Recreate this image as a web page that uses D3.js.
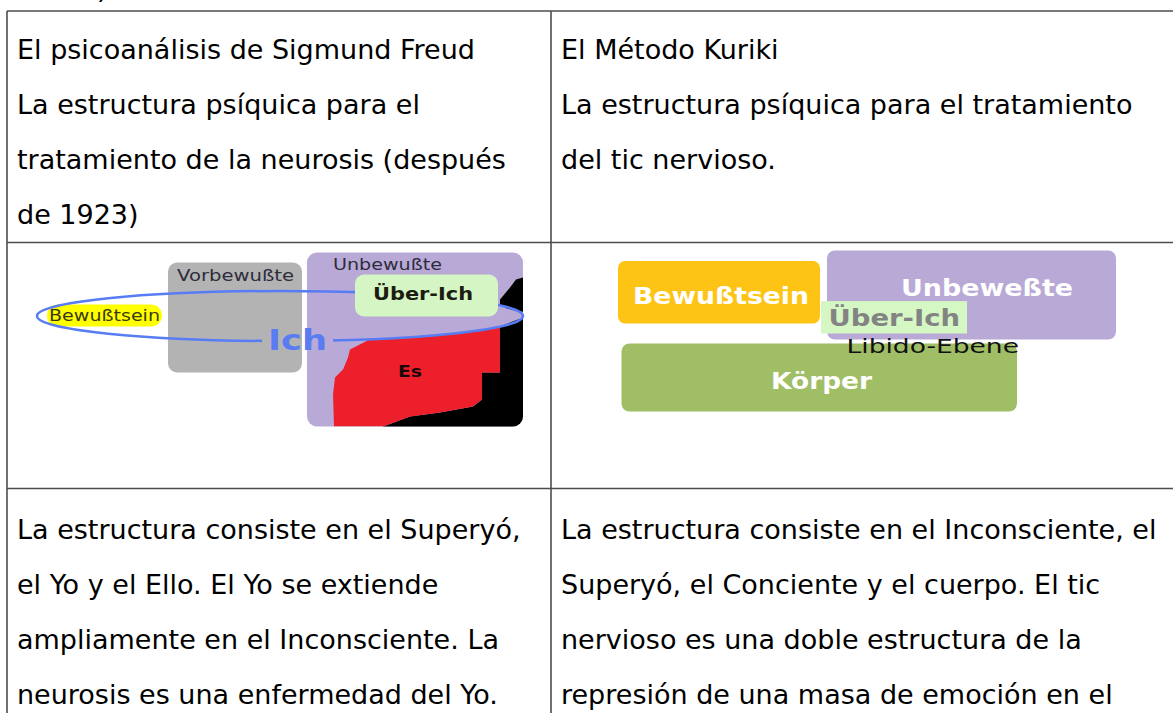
<!DOCTYPE html>
<html>
<head>
<meta charset="utf-8">
<script src="https://cdn.jsdelivr.net/npm/d3@7"></script>
<style>
  html, body { margin: 0; padding: 0; background: #fff; }
  svg { display: block; }
</style>
</head>
<body>
<script>
// ---------- DATA ----------
const headerLeft = ["El psicoanálisis de Sigmund Freud", "La estructura psíquica para el", "tratamiento de la neurosis (después", "de 1923)"];
const headerRight = ["El Método Kuriki", "La estructura psíquica para el tratamiento", "del tic nervioso."];
const bodyLeft = ["La estructura consiste en el Superyó,", "el Yo y el Ello. El Yo se extiende", "ampliamente en el Inconsciente. La", "neurosis es una enfermedad del Yo."];
const bodyRight = ["La estructura consiste en el Inconsciente, el", "Superyó, el Conciente y el cuerpo. El tic", "nervioso es una doble estructura de la", "represión de una masa de emoción en el"];

// Freud diagram (cell-local units)
const freudBoxes = [
  { id: "vor", x0: 161, x1: 295, y0: 20, y1: 130, fill: "#b3b3b3", r: 9 },
  { id: "unb", x0: 300, x1: 516, y0: 10, y1: 184, fill: "#b9a9d6", r: 10 }
];
const freudUeber = { x0: 348, x1: 491, y0: 32, y1: 74, fill: "#d5f6c4", r: 9 };
const freudBew = { x0: 40, x1: 155, y0: 62, y1: 84, fill: "#ffff00" };
const freudIch = { cx: 273, cy: 73.5, rx: 243, ry: 25 };
const freudRed = [[336,127],[341,115],[343,107],[363,96.7],[393,95.2],[423,93.2],[453,90.3],[473,87.7],[493,84],[493,130],[475,130],[475,157],[466,164],[433,170],[403,174],[376,184],[327,184],[326,152],[328,135]];
const freudBlackTop = [[509,37],[520,34],[520,70],[508,68],[500,66],[493,63],[493,57],[498,51],[503,45]];
const freudBlackBottom = [[493,84],[503,80],[511,77],[520,75],[520,190],[376,190],[376,184],[403,174],[433,170],[466,164],[475,157],[475,130],[493,130]];
const freudLabels = [
  { t: "Vorbewußte", x0: 170, x1: 287, y: 38, size: 16, weight: "normal", fill: "#2d2d3c" },
  { t: "Unbewußte", x0: 326, x1: 435, y: 27, size: 16, weight: "normal", fill: "#2d2d3c" },
  { t: "Bewußtsein", x0: 42, x1: 153, y: 78, size: 15, weight: "normal", fill: "#3a3a10" },
  { t: "Über-Ich", x0: 366, x1: 466, y: 57, size: 17, weight: "bold", fill: "#1c1c10" },
  { t: "Es", x0: 391, x1: 415, y: 134, size: 15, weight: "bold", fill: "#1a0808" },
  { t: "Ich", x0: 261, x1: 320, y: 107, size: 28, weight: "bold", fill: "#5a7cf2" }
];

// Kuriki diagram (cell-local units)
const kurikiBoxes = [
  { id: "bew", x0: 67, x1: 269, y0: 18.5, y1: 81, fill: "#fec415", r: 7 },
  { id: "unb", x0: 276, x1: 565, y0: 8, y1: 97, fill: "#b9a9d6", r: 8 },
  { id: "ueb", x0: 270, x1: 416, y0: 58.6, y1: 91, fill: "#d5f7c3", r: 0 },
  { id: "kor", x0: 70.5, x1: 466, y0: 101, y1: 169, fill: "#a0be66", r: 8 }
];
const kurikiLabels = [
  { t: "Bewußtsein", x0: 82, x1: 258, y: 61, size: 23, weight: "bold", fill: "#ffffff" },
  { t: "Unbeweßte", x0: 350, x1: 522, y: 53, size: 23, weight: "bold", fill: "#ffffff" },
  { t: "Über-Ich", x0: 277.5, x1: 409, y: 83.5, size: 23, weight: "bold", fill: "#838383" },
  { t: "Libido-Ebene", x0: 295.5, x1: 468, y: 110.5, size: 20, weight: "normal", fill: "#111111" },
  { t: "Körper", x0: 220, x1: 321, y: 146.5, size: 23, weight: "bold", fill: "#ffffff" }
];

// ---------- LAYOUT ----------
const W = 1173, H = 713;
const colX = [7, 551];
const rowY = [11, 242.5, 488.5];
const font = "'DejaVu Sans', Verdana, sans-serif";

const svg = d3.select("body").append("svg").attr("width", W).attr("height", H);
svg.append("rect").attr("width", W).attr("height", H).attr("fill", "#fff");

// scales for each diagram cell (local -> page)
const fx = d3.scaleLinear().domain([0, 1]).range([colX[0], colX[0] + 1]);
const fy = d3.scaleLinear().domain([0, 1]).range([rowY[1], rowY[1] + 1]);
const kx = d3.scaleLinear().domain([0, 1]).range([colX[1], colX[1] + 1]);
const ky = d3.scaleLinear().domain([0, 1]).range([rowY[1], rowY[1] + 1]);

// ---------- TABLE TEXT ----------
const lineH = 55;
function textBlock(lines, x, y0) {
  svg.append("g").selectAll("text").data(lines).join("text")
    .attr("x", x).attr("y", (d, i) => y0 + i * lineH)
    .attr("font-family", font).attr("font-size", 27).attr("fill", "#000")
    .text(d => d);
}
textBlock(headerLeft, 17, 59);
textBlock(headerRight, 561, 59);
textBlock(bodyLeft, 17, 539);
textBlock(bodyRight, 561, 539);
// fragment of previous line at very top
svg.append("text").attr("x", 97).attr("y", -2).attr("font-family", font).attr("font-size", 27).text(")");

// ---------- FREUD DIAGRAM ----------
const gF = svg.append("g");
const defs = svg.append("defs");

gF.selectAll("rect.box").data(freudBoxes).join("rect")
  .attr("x", d => fx(d.x0)).attr("y", d => fy(d.y0))
  .attr("width", d => fx(d.x1) - fx(d.x0)).attr("height", d => fy(d.y1) - fy(d.y0))
  .attr("rx", d => d.r).attr("fill", d => d.fill);

const unb = freudBoxes[1];
defs.append("clipPath").attr("id", "unbClip").append("rect")
  .attr("x", fx(unb.x0)).attr("y", fy(unb.y0))
  .attr("width", fx(unb.x1) - fx(unb.x0)).attr("height", fy(unb.y1) - fy(unb.y0)).attr("rx", unb.r);

const line = d3.line().x(d => fx(d[0])).y(d => fy(d[1]));
const gClip = gF.append("g").attr("clip-path", "url(#unbClip)");
gClip.append("path").attr("d", line(freudBlackTop) + "Z").attr("fill", "#000");
gClip.append("path").attr("d", line(freudBlackBottom) + "Z").attr("fill", "#000");
gClip.append("path").attr("d", d3.line().x(d => fx(d[0])).y(d => fy(d[1])).curve(d3.curveLinearClosed)(freudRed)).attr("fill", "#ed1f2a");

// Bewußtsein pill
gF.append("rect")
  .attr("x", fx(freudBew.x0)).attr("y", fy(freudBew.y0))
  .attr("width", fx(freudBew.x1) - fx(freudBew.x0)).attr("height", fy(freudBew.y1) - fy(freudBew.y0))
  .attr("rx", 11).attr("fill", freudBew.fill);

// Ich ellipse with a gap for the label
const ichLab = freudLabels[5];
const mask = defs.append("mask").attr("id", "ichMask").attr("maskUnits", "userSpaceOnUse")
  .attr("x", 0).attr("y", 0).attr("width", W).attr("height", H);
mask.append("rect").attr("x", 0).attr("y", 0).attr("width", W).attr("height", H).attr("fill", "#fff");
mask.append("rect").attr("x", fx(ichLab.x0) - 6).attr("y", fy(ichLab.y) - 26)
  .attr("width", fx(ichLab.x1) - fx(ichLab.x0) + 12).attr("height", 34).attr("fill", "#000");
gF.append("ellipse")
  .attr("cx", fx(freudIch.cx)).attr("cy", fy(freudIch.cy)).attr("rx", freudIch.rx).attr("ry", freudIch.ry)
  .attr("fill", "none").attr("stroke", "#587cf4").attr("stroke-width", 2.5).attr("mask", "url(#ichMask)");

// Über-Ich box (over the ellipse line)
gF.append("rect")
  .attr("x", fx(freudUeber.x0)).attr("y", fy(freudUeber.y0))
  .attr("width", fx(freudUeber.x1) - fx(freudUeber.x0)).attr("height", fy(freudUeber.y1) - fy(freudUeber.y0))
  .attr("rx", freudUeber.r).attr("fill", freudUeber.fill);

gF.selectAll("text.lab").data(freudLabels).join("text")
  .attr("x", d => fx(d.x0)).attr("y", d => fy(d.y))
  .attr("textLength", d => fx(d.x1) - fx(d.x0)).attr("lengthAdjust", "spacingAndGlyphs")
  .attr("font-family", font).attr("font-size", d => d.size).attr("font-weight", d => d.weight)
  .attr("fill", d => d.fill).text(d => d.t);

// ---------- KURIKI DIAGRAM ----------
const gK = svg.append("g");
gK.selectAll("rect").data(kurikiBoxes).join("rect")
  .attr("x", d => kx(d.x0)).attr("y", d => ky(d.y0))
  .attr("width", d => kx(d.x1) - kx(d.x0)).attr("height", d => ky(d.y1) - ky(d.y0))
  .attr("rx", d => d.r).attr("fill", d => d.fill);
gK.selectAll("text").data(kurikiLabels).join("text")
  .attr("x", d => kx(d.x0)).attr("y", d => ky(d.y))
  .attr("textLength", d => kx(d.x1) - kx(d.x0)).attr("lengthAdjust", "spacingAndGlyphs")
  .attr("font-family", font).attr("font-size", d => d.size).attr("font-weight", d => d.weight)
  .attr("fill", d => d.fill).text(d => d.t);

// ---------- TABLE BORDERS ----------
const gB = svg.append("g").attr("stroke", "#4d4d4d").attr("stroke-width", 1.6);
gB.selectAll("line.h").data(rowY).join("line")
  .attr("x1", colX[0]).attr("x2", W).attr("y1", d => d).attr("y2", d => d);
gB.selectAll("line.v").data(colX).join("line")
  .attr("x1", d => d).attr("x2", d => d).attr("y1", rowY[0]).attr("y2", H);
</script>
</body>
</html>
